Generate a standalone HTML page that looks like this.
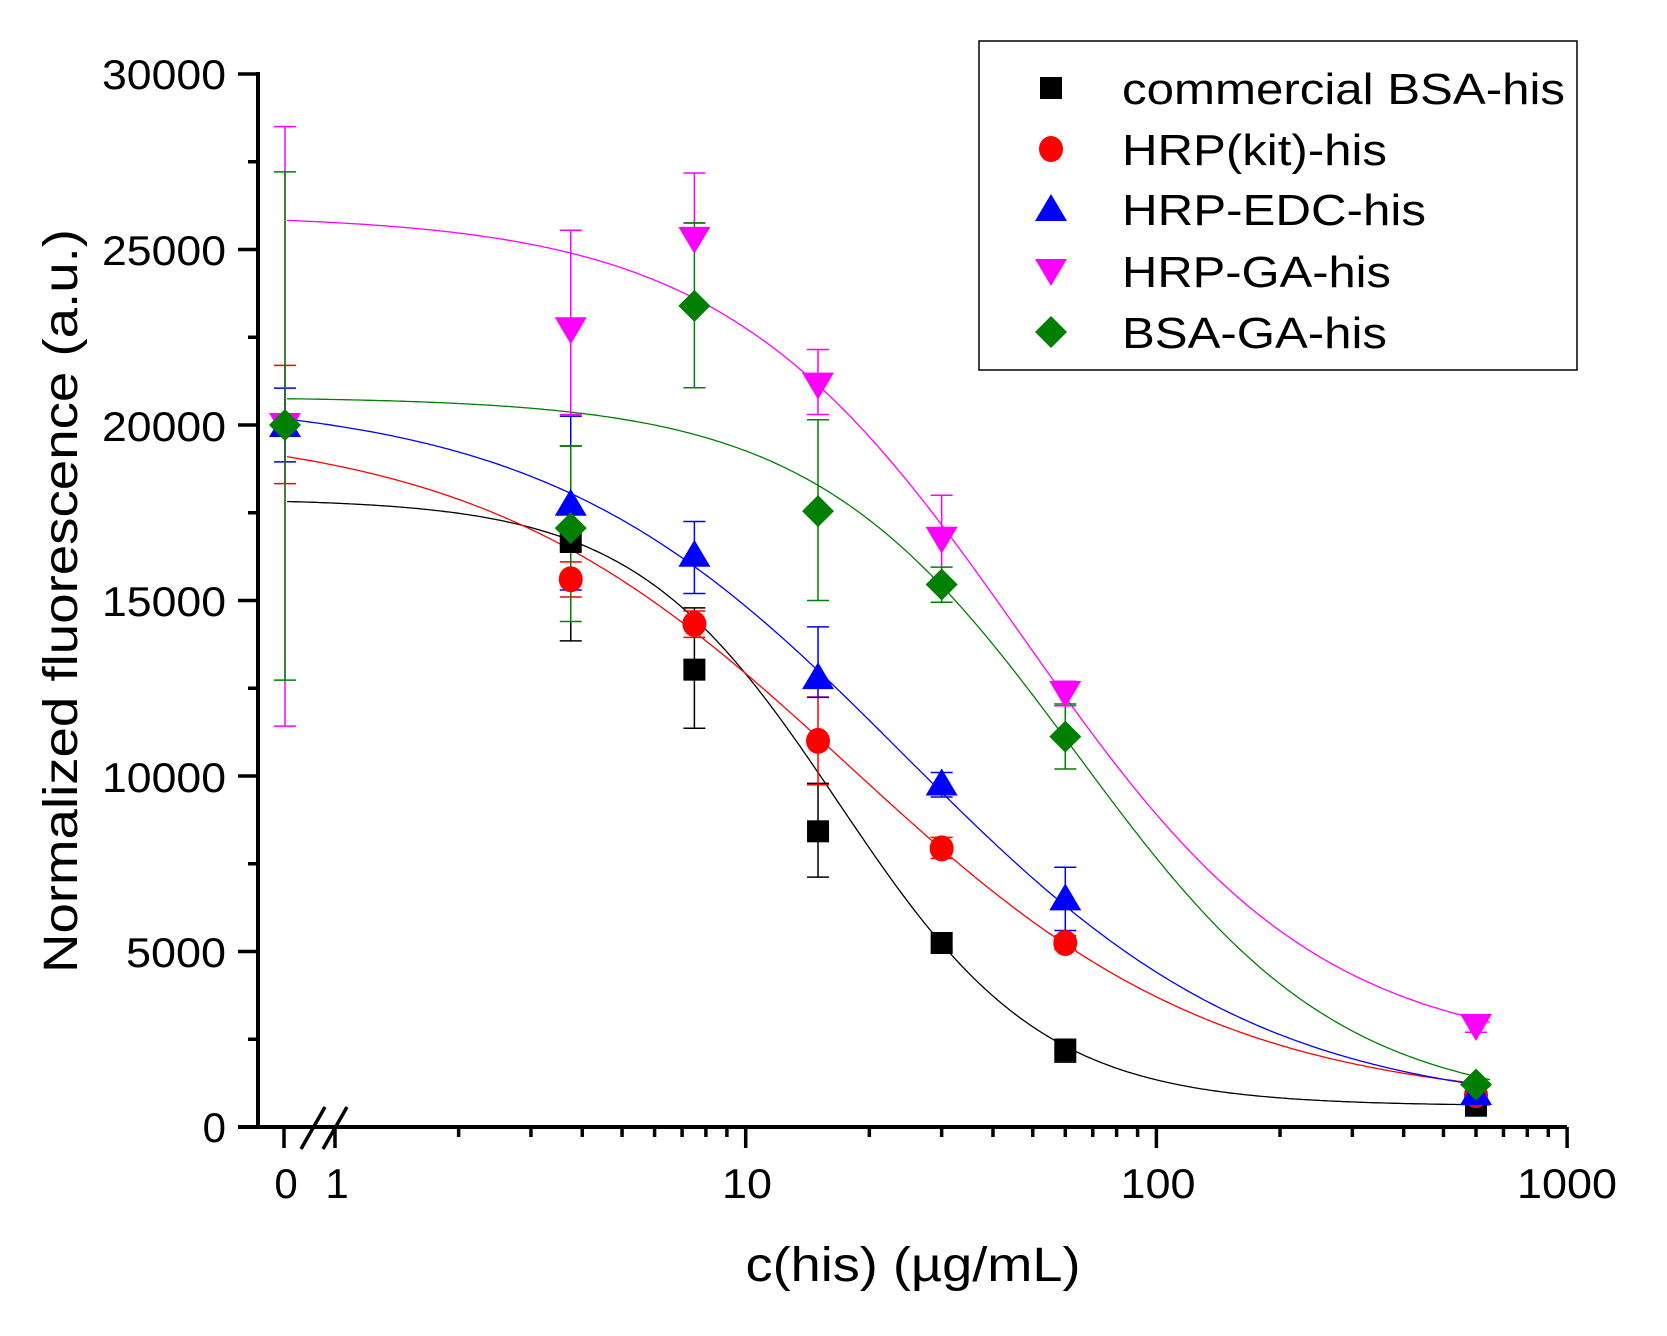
<!DOCTYPE html>
<html><head><meta charset="utf-8"><style>
html,body{margin:0;padding:0;background:#fff;}
svg{display:block;}
text{font-family:"Liberation Sans",Arial,sans-serif;fill:#000;}
</style></head><body>
<svg id="s" width="1667" height="1336" viewBox="0 0 1667 1336" xmlns="http://www.w3.org/2000/svg">
<g id="axes" stroke="#000" fill="none"></g>
<g id="curves" fill="none" stroke-width="1.3"></g>
<g id="err" fill="none" stroke-width="1.5"></g>
<g id="marks"></g>
<g font-size="42" text-anchor="end">
<text x="226" y="89" textLength="124" lengthAdjust="spacingAndGlyphs">30000</text>
<text x="226" y="265" textLength="124" lengthAdjust="spacingAndGlyphs">25000</text>
<text x="226" y="441" textLength="124" lengthAdjust="spacingAndGlyphs">20000</text>
<text x="226" y="616" textLength="124" lengthAdjust="spacingAndGlyphs">15000</text>
<text x="226" y="792" textLength="124" lengthAdjust="spacingAndGlyphs">10000</text>
<text x="226" y="967" textLength="100" lengthAdjust="spacingAndGlyphs">5000</text>
<text x="226" y="1142">0</text>
</g>
<g font-size="42" text-anchor="middle">
<text x="286" y="1198">0</text>
<text x="337" y="1198">1</text>
<text x="747" y="1198" textLength="50" lengthAdjust="spacingAndGlyphs">10</text>
<text x="1158" y="1198" textLength="75" lengthAdjust="spacingAndGlyphs">100</text>
<text x="1567" y="1198" textLength="100" lengthAdjust="spacingAndGlyphs">1000</text>
</g>
<text x="913" y="1281" font-size="48" text-anchor="middle" textLength="335" lengthAdjust="spacingAndGlyphs">c(his) (µg/mL)</text>
<text transform="translate(77,601) rotate(-90)" font-size="48" text-anchor="middle" textLength="744" lengthAdjust="spacingAndGlyphs">Normalized fluorescence (a.u.)</text>
<rect x="979" y="41" width="598" height="329" fill="none" stroke="#000" stroke-width="1.5"/>
<g font-size="44">
<text x="1122" y="104" textLength="443" lengthAdjust="spacingAndGlyphs">commercial BSA-his</text>
<text x="1122" y="165" textLength="265" lengthAdjust="spacingAndGlyphs">HRP(kit)-his</text>
<text x="1122" y="225" textLength="304" lengthAdjust="spacingAndGlyphs">HRP-EDC-his</text>
<text x="1122" y="287" textLength="269" lengthAdjust="spacingAndGlyphs">HRP-GA-his</text>
<text x="1122" y="348" textLength="265" lengthAdjust="spacingAndGlyphs">BSA-GA-his</text>
</g>
<g id="leg"></g>
</svg>
<script>
const NS="http://www.w3.org/2000/svg";
function X(v){return v===0?285:335+410.7*Math.log10(v);}
function Y(v){return 1127-v*0.03510;}
function el(p,tag,a){const e=document.createElementNS(NS,tag);for(const k in a)e.setAttribute(k,a[k]);document.getElementById(p).appendChild(e);return e;}
el('axes','line',{x1:258,y1:72,x2:258,y2:1129,'stroke-width':4});
el('axes','line',{x1:238,y1:1127,x2:1567,y2:1127,'stroke-width':4});
for(let v=0;v<=30000;v+=2500){const y=Y(v);const maj=v%5000===0;el('axes','line',{x1:maj?238:248,y1:y,x2:258,y2:y,'stroke-width':3.5});}
el('axes','line',{x1:284,y1:1127,x2:284,y2:1148,'stroke-width':3.5});
for(let d=0;d<3;d++){for(let m=1;m<=10;m++){const v=Math.pow(10,d)*m;if(m===10&&d<2)continue;const x=X(v);const maj=(m===1||m===10);el('axes','line',{x1:x,y1:1127,x2:x,y2:maj?1148:1137,'stroke-width':3.5});}}
el('axes','rect',{x:296,y:1105,width:36,height:20,fill:'#fff',stroke:'none'});
el('axes','line',{x1:301,y1:1149,x2:325,y2:1107,'stroke-width':3.5});
el('axes','line',{x1:323,y1:1149,x2:347,y2:1107,'stroke-width':3.5});
const S=[
{c:'#000',m:'sq',fit:[17900,600,16.8,1.74],pts:[[0,20000,20000,20000],[3.75,16667,19400,13850],[7.5,13030,14790,11360],[15,8424,9790,7120],[30,5242,5400,5050],[60,2182,2500,1850],[600,606,700,520]]},
{c:'#ff0000',m:'ci',fit:[20000,600,17.8,0.96],pts:[[0,20000,21700,18330],[3.75,15606,16100,15100],[7.5,14333,14700,13950],[15,11000,12250,9750],[30,7939,8250,7650],[60,5242,5450,5050],[600,909,1000,820]]},
{c:'#0000ff',m:'tu',fit:[20800,400,24.3,0.995],pts:[[0,20000,21050,18950],[3.75,17758,20250,15300],[7.5,16303,17250,15200],[15,12818,14250,12240],[30,9788,10100,9400],[60,6515,7400,5600],[600,970,1050,890]]},
{c:'#ff00ff',m:'td',fit:[26000,2000,47,1.2],pts:[[0,20000,28500,11420],[3.75,22727,25550,20300],[7.5,25303,27180,25750],[15,21152,22150,20300],[30,16758,18000,15500],[60,12364,12700,12000],[600,2879,3050,2700]]},
{c:'#008000',m:'di',fit:[20800,500,63.8,1.35],pts:[[0,20000,27210,12730],[3.75,17061,19400,14400],[7.5,23394,25760,21060],[15,17545,20150,15000],[30,15455,15950,14950],[60,11121,12050,10200],[600,1212,1300,1100]]}
];
function marker(g,t,x,y,c){
 if(t==='sq')el(g,'rect',{x:x-11,y:y-11,width:22,height:22,fill:c});
 else if(t==='ci')el(g,'ellipse',{cx:x,cy:y,rx:12,ry:13,fill:c});
 else if(t==='tu')el(g,'polygon',{points:`${x},${y-15} ${x+16},${y+12} ${x-16},${y+12}`,fill:c});
 else if(t==='td')el(g,'polygon',{points:`${x-16},${y-12} ${x+16},${y-12} ${x},${y+15}`,fill:c});
 else if(t==='di')el(g,'polygon',{points:`${x},${y-16} ${x+16},${y} ${x},${y+16} ${x-16},${y}`,fill:c});
}
S.forEach(s=>{
 const [T,B,C,H]=s.fit;let d='';
 for(let px=287;px<=1490;px+=3){const v=Math.pow(10,(px-335)/410.7);const y=B+(T-B)/(1+Math.pow(v/C,H));d+=(d?'L':'M')+px+','+Y(y).toFixed(1);}
 el('curves','path',{d:d,stroke:s.c});
 s.pts.forEach(p=>{const x=X(p[0]);el('err','path',{d:`M${x},${Y(p[2])}V${Y(p[3])}M${x-11},${Y(p[2])}h22M${x-11},${Y(p[3])}h22`,stroke:s.c});});
});
S.forEach(s=>s.pts.forEach(p=>marker('marks',s.m,X(p[0]),Y(p[1]),s.c)));
const ly=[88,149,209,271,332];
S.forEach((s,i)=>marker('leg',s.m,1051,ly[i],s.c));
</script>
</body></html>
